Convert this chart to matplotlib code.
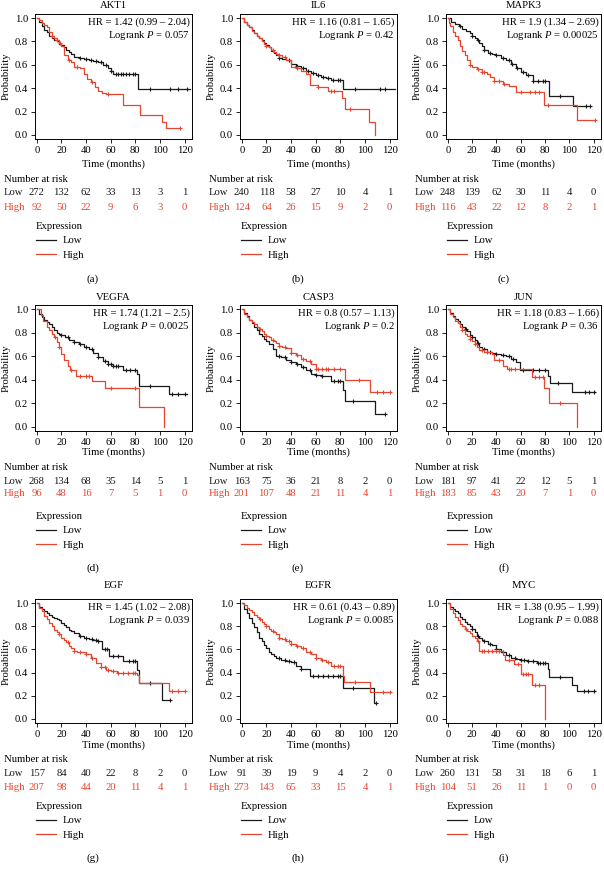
import numpy as np
import matplotlib
matplotlib.use("Agg")
import matplotlib.pyplot as plt
from matplotlib.lines import Line2D
from matplotlib.transforms import blended_transform_factory

plt.rcParams['font.family'] = ['Liberation Serif', 'DejaVu Serif']
plt.rcParams['mathtext.fontset'] = 'custom'
plt.rcParams['mathtext.rm'] = 'Liberation Serif'
plt.rcParams['mathtext.it'] = 'Liberation Serif:italic'

BLACK = '#1a1a1a'
RED = '#e8452e'

# ---------------- data ----------------
genes = ['AKT1', 'IL6', 'MAPK3', 'VEGFA', 'CASP3', 'JUN', 'EGF', 'EGFR', 'MYC']
panel_labels = ['(a)', '(b)', '(c)', '(d)', '(e)', '(f)', '(g)', '(h)', '(i)']
hr_texts = ['1.42 (0.99 \u2013 2.04)', '1.16 (0.81 \u2013 1.65)', '1.9 (1.34 \u2013 2.69)',
            '1.74 (1.21 \u2013 2.5)', '0.8 (0.57 \u2013 1.13)', '1.18 (0.83 \u2013 1.66)',
            '1.45 (1.02 \u2013 2.08)', '0.61 (0.43 \u2013 0.89)', '1.38 (0.95 \u2013 1.99)']
p_texts = ['0.057', '0.42', '0.00025', '0.0025', '0.2', '0.36', '0.039', '0.0085', '0.088']
risk_times = [0, 20, 40, 60, 80, 100, 120]

# AKT1
akt1_low_t = [0, 2, 4, 6, 8, 10, 12, 14, 16, 18, 20, 22, 24, 26, 28, 30, 34, 38, 42, 46, 50, 54, 58, 60, 62, 82.5, 124]
akt1_low_s = [1, 0.97, 0.93, 0.90, 0.88, 0.85, 0.83, 0.81, 0.80, 0.78, 0.77, 0.75, 0.73, 0.71, 0.69, 0.67, 0.66, 0.65, 0.64, 0.63, 0.62, 0.60, 0.57, 0.55, 0.52, 0.39, 0.39]
akt1_low_c = [35, 40, 44, 48, 52, 56, 60, 64, 66, 68, 70, 72, 75, 78, 80, 92, 108, 115, 122]
akt1_high_t = [0, 2, 4, 6, 8, 10, 12, 14, 16, 18, 20, 22, 25, 28, 30, 35, 38, 41, 44, 47, 50, 53, 56, 70, 84, 102, 105, 116]
akt1_high_s = [1, 0.98, 0.96, 0.94, 0.92, 0.88, 0.85, 0.83, 0.81, 0.79, 0.76, 0.68, 0.64, 0.62, 0.58, 0.57, 0.52, 0.48, 0.45, 0.41, 0.38, 0.36, 0.35, 0.26, 0.17, 0.11, 0.06, 0.06]
akt1_high_c = [12, 16, 19, 26, 33, 45, 58, 116]
akt1_risk_low = [272, 132, 62, 33, 13, 3, 1]
akt1_risk_high = [92, 50, 22, 9, 6, 3, 0]

# IL6
il6_low_t = [0, 2, 4, 6, 8, 10, 12, 14, 16, 18, 20, 22, 24, 26, 28, 30, 33, 36, 40, 44, 48, 52, 56, 60, 64, 68, 72, 82, 124]
il6_low_s = [1, 0.97, 0.94, 0.92, 0.90, 0.87, 0.85, 0.83, 0.81, 0.79, 0.77, 0.75, 0.72, 0.70, 0.68, 0.66, 0.65, 0.64, 0.61, 0.59, 0.57, 0.55, 0.53, 0.51, 0.50, 0.49, 0.47, 0.39, 0.39]
il6_low_c = [30, 38, 45, 50, 54, 58, 62, 66, 70, 74, 78, 80, 92, 112, 116]
il6_high_t = [0, 2, 4, 6, 8, 10, 12, 14, 16, 18, 20, 22, 24, 26, 28, 30, 33, 36, 40, 44, 48, 52, 55, 62, 70, 81, 83.5, 103, 108]
il6_high_s = [1, 0.97, 0.94, 0.92, 0.89, 0.87, 0.85, 0.83, 0.80, 0.78, 0.76, 0.75, 0.73, 0.71, 0.69, 0.68, 0.67, 0.64, 0.58, 0.57, 0.55, 0.52, 0.43, 0.41, 0.38, 0.32, 0.22, 0.11, 0.0]
il6_high_c = [20, 25, 30, 35, 45, 62, 72, 75, 88]
il6_risk_low = [240, 118, 58, 27, 10, 4, 1]
il6_risk_high = [124, 64, 26, 15, 9, 2, 0]

# MAPK3
mapk3_low_t = [0, 3, 6, 9, 12, 15, 18, 20, 22, 24, 26, 28, 30, 33, 36, 40, 44, 48, 52, 56, 60, 64, 70, 83, 103, 117]
mapk3_low_s = [1, 0.97, 0.95, 0.93, 0.91, 0.89, 0.87, 0.85, 0.83, 0.81, 0.79, 0.76, 0.73, 0.70, 0.69, 0.68, 0.66, 0.64, 0.61, 0.57, 0.54, 0.51, 0.46, 0.33, 0.25, 0.25]
mapk3_low_c = [10, 20, 25, 30, 35, 40, 45, 50, 53, 57, 62, 66, 70, 74, 78, 80, 92, 114, 117]
mapk3_high_t = [0, 1, 2, 4, 6, 8, 10, 12, 14, 16, 18, 20, 24, 28, 32, 35, 38, 45, 50, 56, 79, 106.5, 121]
mapk3_high_s = [1, 0.96, 0.93, 0.88, 0.85, 0.81, 0.76, 0.72, 0.68, 0.64, 0.60, 0.58, 0.56, 0.54, 0.52, 0.50, 0.46, 0.44, 0.42, 0.37, 0.26, 0.13, 0.13]
mapk3_high_c = [18, 25, 28, 30, 38, 42, 46, 60, 68, 72, 75, 82, 121]
mapk3_risk_low = [248, 139, 62, 30, 11, 4, 0]
mapk3_risk_high = [116, 43, 22, 12, 8, 2, 1]

# VEGFA
vegfa_low_t = [0, 2, 4, 6, 8, 10, 12, 14, 16, 18, 20, 23, 26, 30, 34, 38, 42, 46, 50, 54, 58, 62, 70, 81, 83, 107, 122]
vegfa_low_s = [1, 0.96, 0.93, 0.91, 0.89, 0.87, 0.85, 0.82, 0.80, 0.79, 0.78, 0.76, 0.74, 0.72, 0.70, 0.68, 0.66, 0.63, 0.59, 0.56, 0.53, 0.52, 0.48, 0.45, 0.35, 0.28, 0.28]
vegfa_low_c = [20, 25, 30, 35, 40, 45, 50, 55, 58, 60, 62, 64, 66, 72, 76, 80, 92, 110, 115, 120]
vegfa_high_t = [0, 3, 5, 8, 10, 12, 14, 16, 18, 20, 22, 25, 27, 32, 45, 55, 83, 103]
vegfa_high_s = [1, 0.95, 0.90, 0.85, 0.82, 0.79, 0.76, 0.72, 0.68, 0.62, 0.57, 0.52, 0.48, 0.43, 0.39, 0.33, 0.17, 0.0]
vegfa_high_c = [15, 18, 28, 35, 40, 42, 60, 80]
vegfa_risk_low = [268, 134, 68, 35, 14, 5, 1]
vegfa_risk_high = [96, 48, 16, 7, 5, 1, 0]

# CASP3
casp3_low_t = [0, 2, 4, 6, 8, 10, 12, 14, 16, 18, 20, 22, 25, 28, 32, 36, 40, 44, 48, 52, 56, 60, 64, 72, 82, 84, 108, 116]
casp3_low_s = [1, 0.97, 0.94, 0.91, 0.88, 0.85, 0.82, 0.79, 0.77, 0.75, 0.73, 0.70, 0.66, 0.60, 0.59, 0.57, 0.55, 0.53, 0.51, 0.48, 0.45, 0.44, 0.43, 0.39, 0.31, 0.22, 0.11, 0.11]
casp3_low_c = [30, 35, 40, 45, 50, 55, 60, 65, 75, 78, 80, 90, 116]
casp3_high_t = [0, 2, 4, 6, 8, 10, 12, 14, 16, 18, 20, 22, 24, 26, 28, 30, 33, 36, 40, 44, 48, 52, 56, 60, 84, 104, 121]
casp3_high_s = [1, 0.96, 0.93, 0.91, 0.89, 0.87, 0.85, 0.83, 0.81, 0.79, 0.77, 0.76, 0.74, 0.73, 0.71, 0.69, 0.68, 0.67, 0.63, 0.61, 0.58, 0.56, 0.53, 0.49, 0.40, 0.30, 0.30]
casp3_high_c = [15, 20, 25, 30, 35, 40, 45, 50, 55, 60, 62, 65, 68, 70, 75, 80, 95, 110, 115, 120]
casp3_risk_low = [163, 75, 36, 21, 8, 2, 0]
casp3_risk_high = [201, 107, 48, 21, 11, 4, 1]

# JUN
jun_low_t = [0, 2, 4, 6, 8, 10, 12, 14, 16, 18, 20, 22, 24, 26, 28, 32, 36, 40, 44, 48, 52, 56, 59, 82, 84, 102, 121]
jun_low_s = [1, 0.97, 0.94, 0.92, 0.90, 0.87, 0.85, 0.83, 0.81, 0.78, 0.76, 0.74, 0.71, 0.68, 0.66, 0.64, 0.63, 0.62, 0.61, 0.60, 0.58, 0.55, 0.48, 0.43, 0.37, 0.30, 0.30]
jun_low_c = [15, 20, 25, 30, 35, 40, 45, 50, 54, 62, 70, 75, 80, 91, 113, 116, 120]
jun_high_t = [0, 2, 4, 6, 8, 10, 12, 14, 16, 18, 20, 22, 24, 26, 30, 36, 38, 45, 49, 69.5, 79, 83, 106.5]
jun_high_s = [1, 0.96, 0.93, 0.90, 0.88, 0.85, 0.82, 0.79, 0.77, 0.75, 0.73, 0.70, 0.68, 0.65, 0.64, 0.62, 0.57, 0.52, 0.49, 0.42, 0.33, 0.20, 0.0]
jun_high_c = [12, 18, 22, 28, 32, 42, 50, 52, 55, 72, 75, 78, 92]
jun_risk_low = [181, 97, 41, 22, 12, 5, 1]
jun_risk_high = [183, 85, 43, 20, 7, 1, 0]

# EGF
egf_low_t = [0, 2, 4, 6, 8, 10, 12, 14, 16, 18, 20, 22, 24, 26, 28, 30, 34, 38, 42, 46, 50, 52.6, 59, 70, 81, 83, 102, 108]
egf_low_s = [1, 0.97, 0.95, 0.93, 0.91, 0.90, 0.88, 0.87, 0.86, 0.85, 0.83, 0.81, 0.79, 0.77, 0.76, 0.74, 0.72, 0.70, 0.69, 0.68, 0.67, 0.60, 0.54, 0.50, 0.42, 0.31, 0.16, 0.16]
egf_low_c = [35, 40, 45, 48, 50, 55, 57, 62, 66, 75, 78, 80, 92, 108]
egf_high_t = [0, 2, 4, 6, 8, 10, 12, 14, 16, 18, 20, 22, 24, 26, 28, 30, 33, 36, 40, 44, 48, 52, 56, 60, 65, 81, 83, 107, 120]
egf_high_s = [1, 0.96, 0.93, 0.89, 0.86, 0.83, 0.80, 0.77, 0.75, 0.73, 0.70, 0.68, 0.66, 0.63, 0.61, 0.59, 0.58, 0.58, 0.56, 0.53, 0.48, 0.45, 0.42, 0.41, 0.40, 0.38, 0.31, 0.24, 0.24]
egf_high_c = [18, 25, 30, 35, 40, 45, 52, 55, 58, 62, 66, 70, 74, 78, 80, 110, 115, 120]
egf_risk_low = [157, 84, 40, 22, 8, 2, 0]
egf_risk_high = [207, 98, 44, 20, 11, 4, 1]

# EGFR
egfr_low_t = [0, 2, 4, 6, 8, 10, 12, 14, 16, 18, 20, 22, 24, 26, 28, 32, 36, 40, 44, 48, 55, 82, 107, 109]
egfr_low_s = [1, 0.95, 0.91, 0.87, 0.83, 0.79, 0.75, 0.70, 0.67, 0.64, 0.61, 0.58, 0.56, 0.54, 0.53, 0.51, 0.50, 0.49, 0.46, 0.43, 0.37, 0.27, 0.14, 0.14]
egfr_low_c = [30, 35, 38, 42, 48, 58, 62, 66, 70, 74, 78, 80, 90, 109]
egfr_high_t = [0, 2, 4, 6, 8, 10, 12, 14, 16, 18, 20, 22, 24, 26, 28, 30, 33, 36, 40, 44, 48, 52, 56, 60, 64, 68, 72, 82, 83, 104, 121]
egfr_high_s = [1, 0.98, 0.96, 0.94, 0.92, 0.90, 0.88, 0.86, 0.84, 0.82, 0.80, 0.78, 0.76, 0.75, 0.73, 0.70, 0.69, 0.67, 0.65, 0.63, 0.61, 0.58, 0.56, 0.53, 0.51, 0.49, 0.46, 0.37, 0.32, 0.23, 0.23]
egfr_high_c = [15, 20, 25, 30, 35, 38, 40, 45, 50, 55, 60, 65, 70, 75, 78, 80, 92, 115, 120]
egfr_risk_low = [91, 39, 19, 9, 4, 2, 0]
egfr_risk_high = [273, 143, 65, 33, 15, 4, 1]

# MYC
myc_low_t = [0, 2, 4, 6, 8, 10, 12, 14, 16, 18, 20, 22, 24, 26, 28, 30, 33, 36, 40, 44, 48, 52, 56, 60, 65, 73, 82, 83, 102, 106, 121]
myc_low_s = [1, 0.97, 0.95, 0.93, 0.91, 0.88, 0.86, 0.84, 0.82, 0.80, 0.78, 0.75, 0.72, 0.70, 0.68, 0.67, 0.65, 0.64, 0.60, 0.58, 0.55, 0.53, 0.52, 0.51, 0.50, 0.48, 0.43, 0.36, 0.29, 0.24, 0.24]
myc_low_c = [20, 25, 30, 35, 40, 45, 50, 55, 60, 63, 66, 70, 74, 76, 78, 80, 92, 112, 115, 120]
myc_high_t = [0, 2, 4, 6, 8, 10, 12, 14, 16, 18, 20, 22, 24, 26, 45, 47, 54.6, 60, 69.5, 80]
myc_high_s = [1, 0.95, 0.91, 0.88, 0.85, 0.82, 0.80, 0.78, 0.76, 0.74, 0.72, 0.70, 0.67, 0.59, 0.55, 0.51, 0.47, 0.39, 0.29, 0.0]
myc_high_c = [15, 25, 28, 30, 33, 36, 40, 42, 50, 58, 62, 64, 66, 72, 75]
myc_risk_low = [260, 131, 58, 31, 18, 6, 1]
myc_risk_high = [104, 51, 26, 11, 1, 0, 0]

curves = [
    (akt1_low_t, akt1_low_s, akt1_low_c, akt1_high_t, akt1_high_s, akt1_high_c, akt1_risk_low, akt1_risk_high),
    (il6_low_t, il6_low_s, il6_low_c, il6_high_t, il6_high_s, il6_high_c, il6_risk_low, il6_risk_high),
    (mapk3_low_t, mapk3_low_s, mapk3_low_c, mapk3_high_t, mapk3_high_s, mapk3_high_c, mapk3_risk_low, mapk3_risk_high),
    (vegfa_low_t, vegfa_low_s, vegfa_low_c, vegfa_high_t, vegfa_high_s, vegfa_high_c, vegfa_risk_low, vegfa_risk_high),
    (casp3_low_t, casp3_low_s, casp3_low_c, casp3_high_t, casp3_high_s, casp3_high_c, casp3_risk_low, casp3_risk_high),
    (jun_low_t, jun_low_s, jun_low_c, jun_high_t, jun_high_s, jun_high_c, jun_risk_low, jun_risk_high),
    (egf_low_t, egf_low_s, egf_low_c, egf_high_t, egf_high_s, egf_high_c, egf_risk_low, egf_risk_high),
    (egfr_low_t, egfr_low_s, egfr_low_c, egfr_high_t, egfr_high_s, egfr_high_c, egfr_risk_low, egfr_risk_high),
    (myc_low_t, myc_low_s, myc_low_c, myc_high_t, myc_high_s, myc_high_c, myc_risk_low, myc_risk_high),
]

# ---------------- layout (pixels) ----------------
W, H = 604, 869
fig = plt.figure(figsize=(W / 100, H / 100), dpi=100)

col_left = [35, 240, 446]
col_width = [157, 157, 155]
rows = [  # axes top, axes bottom, title, time, nar, low, high, expr, label
    dict(top=14, bot=139, title=5, time=164, nar=180, low=193, high=207, expr=229, lab=279),
    dict(top=305, bot=431, title=297, time=452, nar=468, low=481, high=494, expr=519, lab=568),
    dict(top=599, bot=723, title=586, time=745, nar=760, low=774, high=787, expr=809, lab=858),
]
FS = 7.7


def fy(y):
    return 1 - y / H


def fx(x):
    return x / W


def draw_km(ax, t, s, cens, color):
    t = np.asarray(t, float)
    s = np.asarray(s, float)
    ax.step(t, s, where='post', color=color, lw=0.9)
    c = np.asarray(cens, float)
    idx = np.clip(np.searchsorted(t, c, side='right') - 1, 0, len(s) - 1)
    ax.plot(c, s[idx], linestyle='none', marker='+', color=color, ms=3.5, mew=0.8)


for i, gene in enumerate(genes):
    r = rows[i // 3]
    c = i % 3
    L = col_left[c]
    Wd = col_width[c]
    ax = fig.add_axes([fx(L), fy(r['bot']), Wd / W, (r['bot'] - r['top']) / H])
    lt, ls, lc, ht, hs, hc, rl, rh = curves[i]
    draw_km(ax, lt, ls, lc, BLACK)
    draw_km(ax, ht, hs, hc, RED)
    ax.set_xlim(-1.5, 126)
    ax.set_ylim(-0.035, 1.035)
    ax.set_xticks(risk_times)
    ax.set_yticks(np.arange(0, 1.01, 0.2))
    ax.yaxis.set_major_formatter(matplotlib.ticker.FormatStrFormatter('%.1f'))
    ax.tick_params(direction='out', length=3, width=0.6, labelsize=FS, pad=2)
    for sp in ax.spines.values():
        sp.set_linewidth(0.7)
    ax.set_ylabel('Probability', fontsize=FS, labelpad=3)

    ax.text(0.985, 0.975, 'HR = ' + hr_texts[i], transform=ax.transAxes, ha='right', va='top', fontsize=FS)
    ax.text(0.985, 0.88, r'Logrank $\it{P}$ = ' + p_texts[i], transform=ax.transAxes, ha='right', va='top', fontsize=FS)

    cx = fx(L + Wd / 2)
    fig.text(cx, fy(r['title']), gene, ha='center', va='center', fontsize=FS)
    fig.text(cx, fy(r['time']), 'Time (months)', ha='center', va='center', fontsize=FS)
    fig.text(fx(L - 31), fy(r['nar']), 'Number at risk', ha='left', va='center', fontsize=FS)
    fig.text(fx(L - 31), fy(r['low']), 'Low', ha='left', va='center', fontsize=FS, color=BLACK)
    fig.text(fx(L - 31), fy(r['high']), 'High', ha='left', va='center', fontsize=FS, color=RED)
    tr = blended_transform_factory(ax.transData, fig.transFigure)
    for tt, nl, nh in zip(risk_times, rl, rh):
        ax.text(tt, fy(r['low']), str(nl), transform=tr, ha='center', va='center', fontsize=FS, color=BLACK, clip_on=False)
        ax.text(tt, fy(r['high']), str(nh), transform=tr, ha='center', va='center', fontsize=FS, color=RED, clip_on=False)

    handles = [Line2D([], [], color=BLACK, lw=0.9), Line2D([], [], color=RED, lw=0.9)]
    leg = ax.legend(handles, ['Low', 'High'], title='Expression', loc='upper left',
                    bbox_to_anchor=(fx(L + 1), fy(r['expr'] - 7)), bbox_transform=fig.transFigure,
                    frameon=False, fontsize=FS, title_fontsize=FS, alignment='left',
                    handlelength=1.9, handletextpad=0.6, labelspacing=0.45, borderpad=0, borderaxespad=0)
    fig.text(fx(L + 58), fy(r['lab']), panel_labels[i], ha='center', va='center', fontsize=FS + 0.3)

fig.savefig('out.png', dpi=100)
